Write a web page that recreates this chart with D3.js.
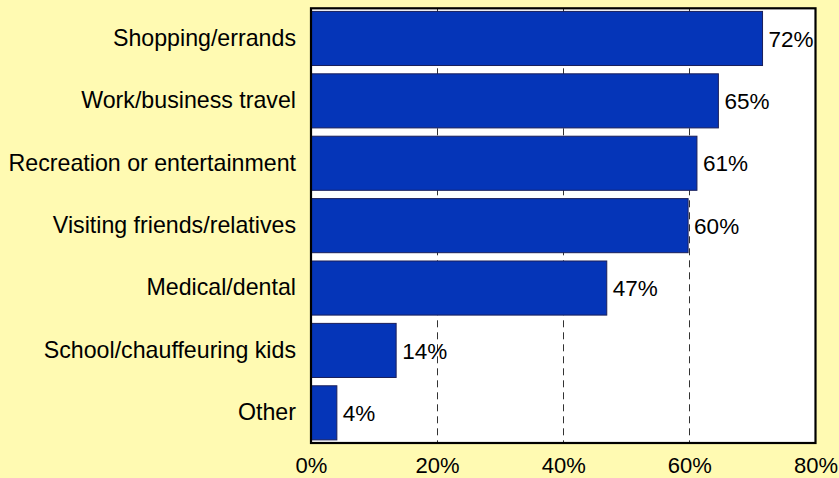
<!DOCTYPE html>
<html><head><meta charset="utf-8">
<script src="https://cdn.jsdelivr.net/npm/d3@7/dist/d3.min.js"></script>
<style>
html,body{margin:0;padding:0;background:#FFFAB2;}
svg{display:block;}
text{font-family:"Liberation Sans",Arial,sans-serif;fill:#000;}
</style></head>
<body>
<svg id="chart" width="839" height="478"></svg>
<script>
const categories = ["Shopping/errands","Work/business travel","Recreation or entertainment","Visiting friends/relatives","Medical/dental","School/chauffeuring kids","Other"];
const values = [71.6, 64.6, 61.2, 59.8, 46.9, 13.5, 4.1];
const valueLabels = ["72%","65%","61%","60%","47%","14%","4%"];
const ticks = [0, 20, 40, 60, 80];
const tickLabels = ["0%","20%","40%","60%","80%"];

const svg = d3.select("#chart");
const W = 839, H = 478;
svg.append("rect").attr("width", W).attr("height", H).attr("fill", "#FFFAB2");

const plot = {x0: 311, x1: 815.5, y0: 8.3, y1: 443};
const x = d3.scaleLinear().domain([0, 80]).range([plot.x0, plot.x1]);
const y = d3.scaleBand().domain(categories).range([plot.y0, plot.y1]).paddingInner(0.133).paddingOuter(0.05);

svg.append("rect").attr("x", plot.x0).attr("y", plot.y0)
  .attr("width", plot.x1 - plot.x0).attr("height", plot.y1 - plot.y0)
  .attr("fill", "#fff");

// gridlines
svg.append("g").selectAll("line").data(ticks.filter(t => t > 0 && t < 80)).join("line")
  .attr("x1", d => Math.round(x(d)) + 0.5).attr("x2", d => Math.round(x(d)) + 0.5)
  .attr("y1", plot.y0).attr("y2", plot.y1)
  .attr("stroke", "#333").attr("stroke-width", 1).attr("stroke-dasharray", "7,5");

// bars
svg.append("g").selectAll("rect").data(categories).join("rect")
  .attr("x", x(0)).attr("y", d => y(d))
  .attr("width", (d, i) => x(values[i]) - x(0))
  .attr("height", y.bandwidth())
  .attr("fill", "#0535B8").attr("stroke", "#1a1f5a").attr("stroke-width", 1);

// value labels
svg.append("g").selectAll("text").data(categories).join("text")
  .attr("x", (d, i) => x(values[i]) + 6)
  .attr("y", d => y(d) + y.bandwidth() / 2)
  .attr("dy", "0.36em")
  .attr("font-size", 22.5)
  .text((d, i) => valueLabels[i]);

// plot border
svg.append("rect").attr("x", plot.x0).attr("y", plot.y0)
  .attr("width", plot.x1 - plot.x0).attr("height", plot.y1 - plot.y0)
  .attr("fill", "none").attr("stroke", "#000").attr("stroke-width", 2.2);

// y axis (category labels)
const yAxis = d3.axisLeft(y).tickSize(0).tickPadding(14);
const gy = svg.append("g").attr("transform", `translate(${plot.x0 - 1},0)`).call(yAxis);
gy.select(".domain").remove();
gy.selectAll("text").attr("font-size", 23.2).attr("font-family", "Liberation Sans, Arial, sans-serif").attr("fill", "#000");

// x axis
const xAxis = d3.axisBottom(x).tickValues(ticks).tickSize(0).tickPadding(14)
  .tickFormat((d, i) => tickLabels[i]);
const gx = svg.append("g").attr("transform", `translate(0,${plot.y1})`).call(xAxis);
gx.select(".domain").remove();
gx.selectAll("text").attr("font-size", 22).attr("font-family", "Liberation Sans, Arial, sans-serif").attr("fill", "#000");
</script>
</body></html>
